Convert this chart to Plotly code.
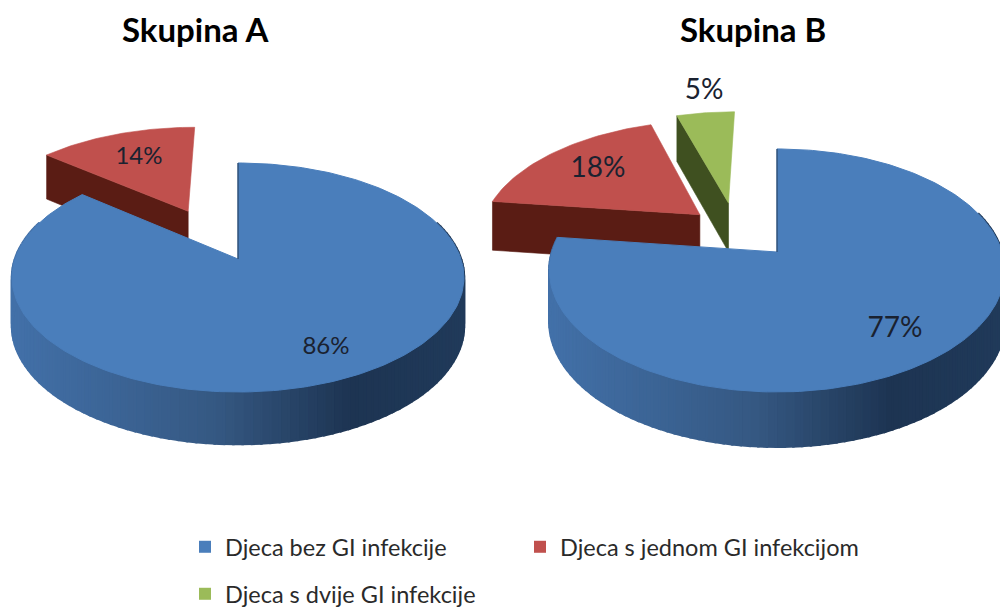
import numpy as np
import plotly.graph_objects as go

# ---- data ----
categories = ["Djeca bez GI infekcije", "Djeca s jednom GI infekcijom", "Djeca s dvije GI infekcije"]
values_a = [86, 14]
values_b = [77, 18, 5]
title_a = "Skupina A"
title_b = "Skupina B"

# ---- styles and layout ----
TOP = ["#4a7ebb", "#c0504d", "#9bbb59"]
SIDE = [None, "#5a1c14", "#3f5020"]
RAMP = [(0.0, (66, 112, 168)), (0.45, (53, 88, 130)), (0.75, (29, 52, 82)), (1.0, (32, 58, 90))]
FONT = "Lato"
PIE_A = dict(cx=238, cy=259, rx=223, k=0.1616, a=111.5, d=47.7,
             explode=[(0, 0), (-0.24, 0.46)], label=[(326, 348), (139, 158)], tx=196, size=24)
PIE_B = dict(cx=777, cy=252, rx=225, k=0.152, a=118.7, d=50.4,
             explode=[(0, 0), (-0.36, 0.33), (-0.23, 0.44)],
             label=[(895, 330), (598, 170), (704, 92)], tx=753, size=28)
LEGEND_SPOTS = [(185, 547), (520, 547), (185, 594)]


def project(p, u, v, lower=False):
    s = 1 / (1 + p["k"] * v)
    x = p["cx"] + p["rx"] * u * s
    y = p["cy"] - p["a"] * v * s
    if lower:
        y = y + p["d"] * np.sqrt(s)
    return x, y


def ramp_colour(t):
    t = min(max(t, 0), 1)
    for (t0, c0), (t1, c1) in zip(RAMP, RAMP[1:]):
        if t <= t1:
            f = (t - t0) / (t1 - t0)
            c = [round(a + (b - a) * f) for a, b in zip(c0, c1)]
            return f"rgb({c[0]},{c[1]},{c[2]})"
    return "rgb(32,58,90)"


def poly(x, y, colour, width=0.6):
    return go.Scatter(x=x, y=y, mode="lines", fill="toself", fillcolor=colour,
                      line=dict(color=colour, width=width), hoverinfo="skip", showlegend=False)


def add_pie(fig, p, values):
    edges = np.cumsum([0] + list(values)) / sum(values) * 2 * np.pi
    # exploded slices first, so the main slice overlaps them
    for i in range(len(values) - 1, 0, -1):
        du, dv = p["explode"][i]
        th = np.linspace(edges[i], edges[i + 1], 40)
        u = np.sin(th) + du
        v = np.cos(th) + dv
        # cut face along the leading edge of the slice
        ue, ve = np.sin(edges[i]) + du, np.cos(edges[i]) + dv
        x0, y0 = project(p, ue, ve)
        x1, y1 = project(p, du, dv)
        x2, y2 = project(p, du, dv, True)
        x3, y3 = project(p, ue, ve, True)
        fig.add_trace(poly([x0, x1, x2, x3, x0], [y0, y1, y2, y3, y0], SIDE[i]))
        xs, ys = project(p, u, v)
        ax, ay = project(p, du, dv)
        fig.add_trace(poly(np.r_[ax, xs, ax], np.r_[ay, ys, ay], TOP[i]))
    # outer wall of the main slice, shaded left to right
    left = project(p, -1, 0)[0]
    right = project(p, 1, 0)[0]
    wall = np.linspace(np.radians(70), min(np.radians(290), edges[1]), 110)
    for t0, t1 in zip(wall[:-1], wall[1:]):
        xa, ya = project(p, np.sin(t0), np.cos(t0))
        xb, yb = project(p, np.sin(t1), np.cos(t1))
        xc, yc = project(p, np.sin(t1), np.cos(t1), True)
        xd, yd = project(p, np.sin(t0), np.cos(t0), True)
        tone = ramp_colour(((xa + xb) / 2 - left) / (right - left))
        fig.add_trace(poly([xa, xb, xc, xd, xa], [ya, yb, yc, yd, ya], tone, width=2.5))
    # top of the main slice
    th = np.linspace(edges[0], edges[1], 240)
    xs, ys = project(p, np.sin(th), np.cos(th))
    ax, ay = project(p, 0, 0)
    fig.add_trace(poly(np.r_[ax, xs, ax], np.r_[ay, ys, ay], TOP[0], width=1))
    # thin dark inner edge at twelve o'clock
    tx, ty = project(p, 0, 1)
    fig.add_trace(go.Scatter(x=[tx, ax], y=[ty, ay], mode="lines", hoverinfo="skip", showlegend=False,
                             line=dict(color="#203a5a", width=1)))
    # percentage labels
    for val, (lx, ly) in zip(values, p["label"]):
        fig.add_trace(go.Scatter(x=[lx], y=[ly], mode="text", text=[f"{val}%"], hoverinfo="skip",
                                 showlegend=False,
                                 textfont=dict(family=FONT, size=p["size"], color="#1a2230")))


fig = go.Figure()
add_pie(fig, PIE_A, values_a)
add_pie(fig, PIE_B, values_b)

legend_ids = ["legend", "legend2", "legend3"]
for i, name in enumerate(categories):
    fig.add_trace(go.Scatter(x=[None], y=[None], mode="markers", name=name, legend=legend_ids[i],
                             marker=dict(symbol="square", size=12, color=TOP[i])))

common = dict(orientation="h", xanchor="left", yanchor="middle", bgcolor="rgba(0,0,0,0)",
              font=dict(family=FONT, size=23.5, color="#2a2a2a"), itemwidth=30, traceorder="normal")

fig.update_layout(
    width=1000, height=607, margin=dict(l=0, r=0, t=0, b=0, autoexpand=False),
    paper_bgcolor="white", plot_bgcolor="white",
    xaxis=dict(range=[0, 1000], visible=False, fixedrange=True),
    yaxis=dict(range=[607, 0], visible=False, fixedrange=True),
    annotations=[
        dict(x=PIE_A["tx"], y=29, text=f"<b>{title_a}</b>", showarrow=False, xref="x", yref="y",
             font=dict(family=FONT, size=33, color="black")),
        dict(x=PIE_B["tx"], y=29, text=f"<b>{title_b}</b>", showarrow=False, xref="x", yref="y",
             font=dict(family=FONT, size=33, color="black")),
    ],
)
for lid, (lx, ly) in zip(legend_ids, LEGEND_SPOTS):
    fig.update_layout({lid: dict(x=lx / 1000, y=1 - ly / 607, **common)})

fig.write_html("out.html", config={"displayModeBar": False},
               post_script="document.body.style.margin='0';")
